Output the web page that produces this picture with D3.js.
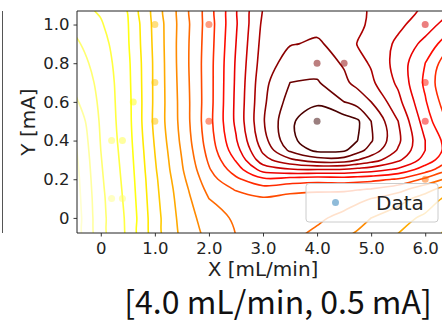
<!DOCTYPE html>
<html><head><meta charset="utf-8">
<script src="https://cdn.jsdelivr.net/npm/d3@7"></script>
<style>body{margin:0;background:#fff;overflow:hidden} svg{display:block}</style>
</head><body>
<script>
// ---------------- data ----------------
const xTicks = [0, 1, 2, 3, 4, 5, 6];
const xTickLabels = ["0", "1.0", "2.0", "3.0", "4.0", "5.0", "6.0"];
const yTicks = [0, 0.2, 0.4, 0.6, 0.8, 1.0];
const yTickLabels = ["0", "0.2", "0.4", "0.6", "0.8", "1.0"];

// surface samples (columns = gridX, rows = gridY)
const gridX = [-0.5, 0, 0.5, 1.0, 1.5, 2.0, 2.5, 3.0, 3.5, 4.0, 4.5, 4.75, 5.0, 5.5, 6.0, 6.5];
const gridY = [1.1, 1.0, 0.9, 0.8, 0.7, 0.6, 0.5, 0.4, 0.35, 0.3, 0.25, 0.2, 0.15, 0.1, 0.0, -0.1];
const gridZ = [
  [3.6, 4.2, 5.05, 7.35, 9.4, 11.45, 13.8, 16.0, 16.4, 16.5, 16.3, 16.15, 15.9, 15.4, 14.9, 14.3],
  [3.2, 3.9, 4.95, 7.3, 9.4, 11.5, 13.9, 16.2, 16.7, 16.8, 16.6, 16.25, 15.8, 15.2, 14.5, 13.4],
  [2.8, 3.6, 4.9, 7.25, 9.45, 11.55, 14.0, 16.35, 16.95, 17.1, 16.7, 15.95, 15.7, 14.8, 13.7, 12.2],
  [2.5, 3.4, 4.8, 7.2, 9.45, 11.6, 14.1, 16.5, 17.4, 17.5, 16.9, 16.3, 15.9, 14.6, 13.0, 11.0],
  [2.25, 3.25, 4.75, 7.2, 9.4, 11.6, 14.15, 16.7, 18.0, 18.1, 17.2, 16.7, 16.2, 14.8, 12.8, 10.6],
  [1.75, 3.2, 4.7, 7.2, 9.35, 11.6, 14.2, 16.8, 18.4, 18.85, 18.0, 17.6, 17.0, 15.3, 13.1, 11.0],
  [1.15, 3.13, 4.67, 7.23, 9.32, 11.65, 14.2, 16.9, 18.85, 19.6, 19.5, 19.15, 18.0, 16.0, 13.5, 11.6],
  [0.85, 3.05, 4.6, 7.1, 9.2, 11.5, 13.9, 16.6, 18.75, 19.65, 19.55, 19.0, 18.1, 16.2, 14.0, 12.3],
  [0.75, 3.0, 4.55, 7.02, 9.1, 11.35, 13.6, 16.2, 18.2, 19.25, 19.15, 18.4, 17.6, 15.9, 14.0, 12.4],
  [0.65, 2.95, 4.5, 6.95, 9.0, 11.15, 13.1, 15.6, 16.8, 17.6, 17.6, 17.0, 16.5, 15.2, 13.6, 12.0],
  [0.57, 2.9, 4.45, 6.88, 8.9, 10.9, 12.5, 14.4, 14.9, 15.0, 14.9, 14.7, 14.5, 13.8, 12.5, 11.0],
  [0.5, 2.85, 4.4, 6.8, 8.75, 10.6, 11.8, 12.8, 12.6, 12.4, 12.5, 12.4, 12.3, 11.9, 10.8, 9.6],
  [0.45, 2.8, 4.35, 6.75, 8.6, 10.3, 11.1, 11.6, 11.3, 11.2, 11.2, 11.1, 11.0, 10.4, 9.4, 8.4],
  [0.4, 2.75, 4.3, 6.7, 8.5, 10.0, 10.6, 10.9, 10.7, 10.6, 10.5, 10.25, 10.0, 9.4, 8.6, 7.6],
  [0.3, 2.7, 4.2, 6.6, 8.35, 9.55, 10.15, 10.45, 10.4, 10.2, 9.7, 9.35, 9.0, 8.4, 7.8, 7.0],
  [0.2, 2.6, 4.15, 6.5, 8.2, 9.25, 10.0, 10.3, 10.2, 9.7, 9.1, 8.8, 8.5, 7.9, 7.3, 6.7]
];
const contourLevels = [1, 2, 3, 4, 5, 6, 7, 8, 9, 10, 11, 12, 13, 14, 15, 16, 17, 18, 19];

// observed data points
const pointX = [0.2, 0.4, 0.2, 0.4, 0.6, 1.0, 1.0, 1.0, 2.0, 2.0, 4.0, 4.5, 4.0, 6.0, 6.0, 6.0, 6.0];
const pointY = [0.1, 0.1, 0.4, 0.4, 0.6, 1.0, 0.7, 0.5, 1.0, 0.5, 0.8, 0.8, 0.5, 1.0, 0.7, 0.5, 0.2];
const pointZ = [2.5, 3.0, 3.5, 4.0, 5.0, 7.3, 7.2, 7.2, 11.5, 11.7, 17.5, 16.9, 19.6, 14.6, 12.8, 13.5, 10.0];

const legendLabel = "Data";
const xLabel = "X [mL/min]";
const yLabel = "Y [mA]";
const titleText = "[4.0 mL/min, 0.5 mA]";

// ---------------- drawing ----------------
const W = 442, H = 321;
const svg = d3.select("body").append("svg").attr("width", W).attr("height", H);
const FONT = "DejaVu Sans, sans-serif";
const TITLE_FONT = "'Noto Sans CJK JP', 'Noto Sans CJK SC', sans-serif";

const plot = {left: 77, right: 449, top: 11, bottom: 233};
const x = d3.scaleLinear().domain([-0.44, 6.44]).range([plot.left, plot.right]);
const y = d3.scaleLinear().domain([-0.078, 1.07]).range([plot.bottom, plot.top]);

// matplotlib "hot_r"
function hotR(t) {
  const s = 1 - Math.max(0, Math.min(1, t));
  const r = s < 0.365079 ? 0.0416 + (1 - 0.0416) * s / 0.365079 : 1;
  const g = s < 0.365079 ? 0 : (s < 0.746032 ? (s - 0.365079) / (0.746032 - 0.365079) : 1);
  const b = s < 0.746032 ? 0 : (s - 0.746032) / (1 - 0.746032);
  return d3.rgb(r * 255, g * 255, b * 255).toString();
}
const cnorm = d3.scaleLinear().domain([0, 21]).range([0, 1]);

// partial neighbouring panel at the far left
svg.append("line").attr("x1", 2.5).attr("x2", 2.5).attr("y1", plot.top).attr("y2", plot.bottom)
  .attr("stroke", "#555").attr("stroke-width", 1);

const defs = svg.append("defs");
defs.append("clipPath").attr("id", "clip").append("rect")
  .attr("x", plot.left).attr("y", plot.top)
  .attr("width", plot.right - plot.left).attr("height", plot.bottom - plot.top);

const n = gridX.length, m = gridY.length;
const values = gridZ.flat();
const gx = d3.scaleLinear().domain(gridX.map((d, i) => i + 0.5)).range(gridX);
const gy = d3.scaleLinear().domain(gridY.map((d, i) => i + 0.5)).range(gridY);
const contours = d3.contours().size([n, m]).thresholds(contourLevels)(values);

const line = d3.line().curve(d3.curveCatmullRomClosed.alpha(0.5));
const cg = svg.append("g").attr("clip-path", "url(#clip)");
contours.forEach(c => {
  let dstr = "";
  c.coordinates.forEach(poly => poly.forEach(ring => {
    const pts = ring.slice(0, ring.length - 1).map(p => [x(gx(p[0])), y(gy(p[1]))]);
    dstr += line(pts);
  }));
  cg.append("path").attr("d", dstr).attr("fill", "none")
    .attr("stroke", hotR(cnorm(c.value))).attr("stroke-width", 1.6)
    .attr("stroke-linejoin", "round");
});

// data points
cg.selectAll("circle.pt").data(pointX.map((v, i) => i)).enter().append("circle")
  .attr("class", "pt")
  .attr("cx", i => x(pointX[i])).attr("cy", i => y(pointY[i])).attr("r", 3.5)
  .attr("fill", i => hotR(cnorm(pointZ[i]))).attr("fill-opacity", 0.5);

// axes
const xAxis = d3.axisBottom(x).tickValues(xTicks).tickFormat((d, i) => xTickLabels[i]).tickSizeOuter(0).tickSize(3.5).tickPadding(5.5);
const yAxis = d3.axisLeft(y).tickValues(yTicks).tickFormat((d, i) => yTickLabels[i]).tickSizeOuter(0).tickSize(3.5).tickPadding(4);
const gxA = svg.append("g").attr("transform", `translate(0,${plot.bottom})`).call(xAxis);
const gyA = svg.append("g").attr("transform", `translate(${plot.left},0)`).call(yAxis);
[gxA, gyA].forEach(g => {
  g.select(".domain").remove();
  g.selectAll(".tick line").attr("stroke", "#222").attr("stroke-width", 0.9);
  g.selectAll(".tick text").attr("font-family", FONT).attr("font-size", 16.5).attr("fill", "#222");
});
// spines
svg.append("line").attr("x1", plot.left).attr("x2", plot.left).attr("y1", plot.top).attr("y2", plot.bottom)
  .attr("stroke", "#222").attr("stroke-width", 1);
svg.append("line").attr("x1", plot.left).attr("x2", plot.right).attr("y1", plot.bottom).attr("y2", plot.bottom)
  .attr("stroke", "#222").attr("stroke-width", 1);
svg.append("line").attr("x1", plot.left).attr("x2", plot.right).attr("y1", plot.top).attr("y2", plot.top)
  .attr("stroke", "#222").attr("stroke-width", 1);

// legend
const lg = svg.append("g");
lg.append("rect").attr("x", 306).attr("y", 183.5).attr("width", 132).attr("height", 38.5).attr("rx", 3)
  .attr("fill", "#fff").attr("fill-opacity", 0.8).attr("stroke", "#cccccc").attr("stroke-width", 1);
lg.append("circle").attr("cx", 335.5).attr("cy", 202.5).attr("r", 3.5)
  .attr("fill", "#1f77b4").attr("fill-opacity", 0.5);
lg.append("text").attr("x", 376).attr("y", 209.5).attr("font-family", FONT).attr("font-size", 20)
  .attr("fill", "#222").text(legendLabel);

// labels
svg.append("text").attr("x", 263).attr("y", 276).attr("text-anchor", "middle")
  .attr("font-family", FONT).attr("font-size", 20).attr("fill", "#222").text(xLabel);
svg.append("text").attr("transform", `translate(35,${(plot.top + plot.bottom) / 2}) rotate(-90)`)
  .attr("text-anchor", "middle").attr("font-family", FONT).attr("font-size", 20).attr("fill", "#222").text(yLabel);
svg.append("text").attr("x", 278).attr("y", 313.5).attr("text-anchor", "middle")
  .attr("font-family", TITLE_FONT).attr("font-size", 32).attr("fill", "#111").text(titleText);
</script>
</body></html>
